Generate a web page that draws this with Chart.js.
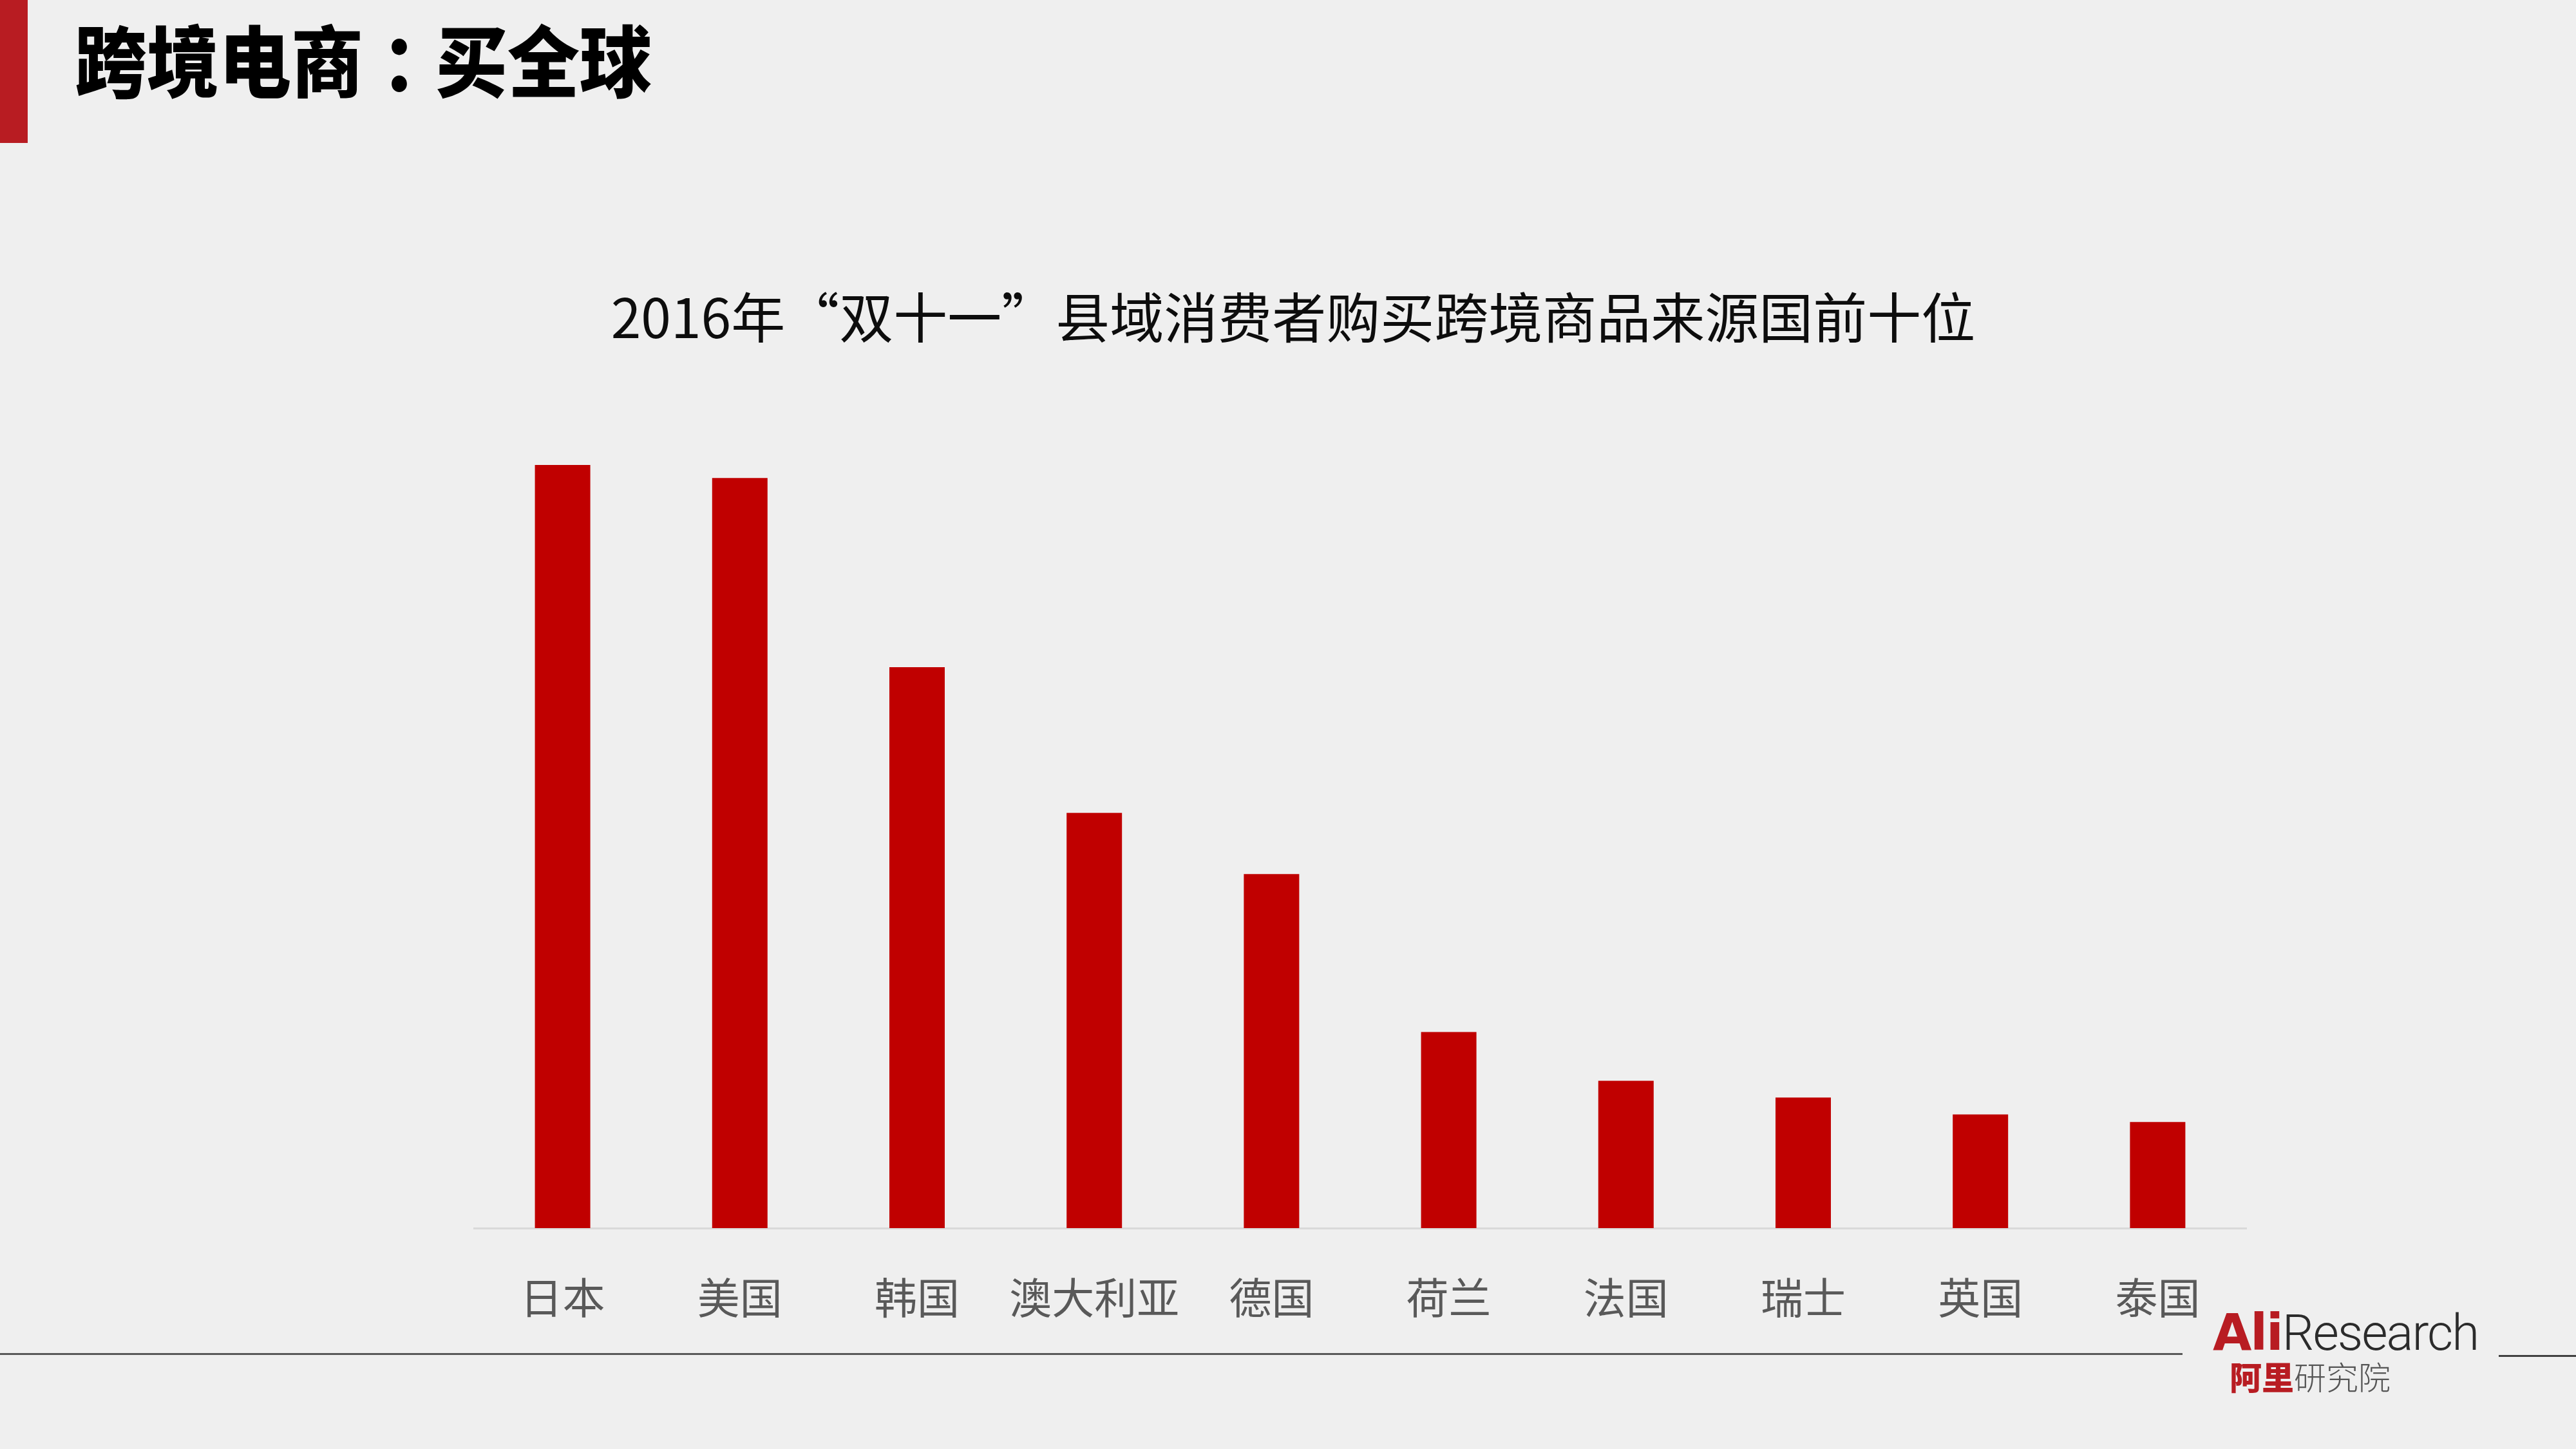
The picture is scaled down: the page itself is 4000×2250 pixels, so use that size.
<!DOCTYPE html>
<html>
<head>
<meta charset="utf-8">
<script src="https://cdn.jsdelivr.net/npm/chart.js@4.4.1/dist/chart.umd.min.js"></script>
<style>
  html, body { margin: 0; padding: 0; width: 4000px; height: 2250px; background: #EFEFEF; overflow: hidden; }
  #wrap { position: absolute; left: 0; top: 0; width: 4000px; height: 2250px; }
  .abs { position: absolute; white-space: nowrap; }
  #redbar { left: 0; top: 0; width: 43px; height: 222px; background: #B81C22; }
  #slideTitle { left: 116px; top: 24px; font-family: "Noto Sans CJK SC"; font-weight: 900; font-size: 112px; line-height: 118px; color: #000; transform: scaleY(1.08); transform-origin: left top; }
  #colon { display: inline-block; width: 112px; text-align: center; text-indent: 28px; }
  #chartTitle { left: 0; width: 4016px; text-align: center; top: 444px; font-family: "Noto Sans CJK SC"; font-size: 84px; line-height: 90px; color: #0D0D0D; }
  #lineL { left: 0; top: 2101px; width: 3389px; height: 3px; background: #595959; }
  #lineR { left: 3880px; top: 2104px; width: 120px; height: 3px; background: #404040; }
  #logo1 { left: 3436px; top: 2024px; font-size: 78px; line-height: 90px; }
  #ali { font-family: "DejaVu Sans"; font-weight: bold; color: #B81C22; letter-spacing: -2px; }
  #research { font-family: Roboto; font-weight: 300; color: #2b2b2b; font-size: 78px; letter-spacing: -2px; }
  #logo2 { left: 3462px; top: 2104px; font-size: 50px; line-height: 64px; font-family: "Noto Sans CJK SC"; }
  #aliCn { color: #B81C22; font-weight: 900; }
  #yjy { color: #555; font-weight: 300; }
  canvas { position: absolute; left: 0; top: 0; }
</style>
</head>
<body>
<div id="wrap">
  <canvas id="c" width="4000" height="2250"></canvas>
  <div class="abs" id="redbar"></div>
  <div class="abs" id="slideTitle">跨境电商<span id="colon">：</span>买全球</div>
  <div class="abs" id="chartTitle">2016年“双十一”县域消费者购买跨境商品来源国前十位</div>
  <div class="abs" id="lineL"></div>
  <div class="abs" id="lineR"></div>
  <div class="abs" id="logo1"><span id="ali">Ali</span><span id="research">Research</span></div>
  <div class="abs" id="logo2"><span id="aliCn">阿里</span><span id="yjy">研究院</span></div>
</div>
<script>
// Categories (source countries)
const countries = ["日本", "美国", "韩国", "澳大利亚", "德国", "荷兰", "法国", "瑞士", "英国", "泰国"];
// Relative size (日本 = 100; no value axis in the original)
const shareIndex = [100, 98.3, 73.5, 54.4, 46.4, 25.7, 19.3, 17.1, 14.9, 13.9];
const yMin = 0;
const yMax = 100;

const ctx = document.getElementById('c').getContext('2d');
new Chart(ctx, {
  type: 'bar',
  data: {
    labels: countries,
    datasets: [{
      data: shareIndex,
      backgroundColor: '#C00000',
      borderWidth: 0,
      categoryPercentage: 1.0,
      barPercentage: 0.3125
    }]
  },
  options: {
    responsive: false,
    animation: false,
    devicePixelRatio: 1,
    layout: { padding: { left: 736, right: 512, top: 722, bottom: 0 } },
    plugins: { legend: { display: false }, title: { display: false }, tooltip: { enabled: false } },
    scales: {
      x: {
        grid: { display: false, drawTicks: false },
        border: { display: true, color: '#D9D9D9', width: 3 },
        ticks: {
          color: '#595959',
          font: { family: '"Noto Sans CJK SC"', size: 66 },
          padding: 68,
          maxRotation: 0,
          autoSkip: false
        },
        afterFit: (scale) => { scale.height = 343; }
      },
      y: {
        display: false,
        min: yMin,
        max: yMax
      }
    }
  }
});
</script>
</body>
</html>
